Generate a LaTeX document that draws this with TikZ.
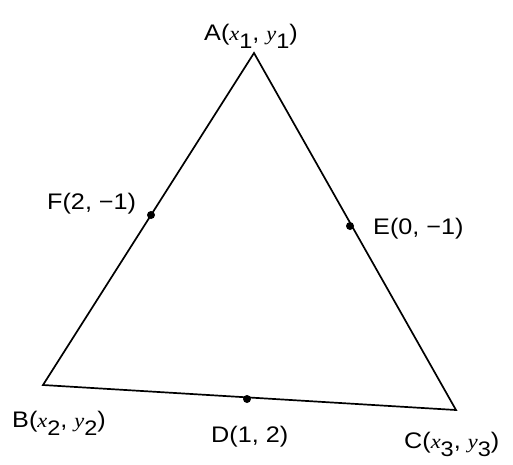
\documentclass[tikz,border=0pt]{standalone}
\usepackage{fontspec}
\usepackage{graphicx}
\setmainfont{Liberation Sans}
\newfontfamily\varfont{Liberation Serif}
\newcommand{\vv}[1]{{\varfont\itshape\fontsize{20}{20}\selectfont #1}}
\newcommand{\sbs}[1]{\raisebox{-0.75ex}{\fontsize{21}{21}\selectfont #1}}
\newcommand{\lbl}[1]{\scalebox{1.12}[1]{#1}}
\tikzset{
  side/.style={line width=1.7pt, line join=miter},
  pt/.style={circle, fill=black, inner sep=0pt, minimum size=8pt},
  lab/.style={anchor=base west, inner sep=0pt, font=\fontsize{22.5}{22.5}\selectfont}
}
\begin{document}
\begin{tikzpicture}[x=1pt,y=-1pt]
\useasboundingbox (0,0) rectangle (513,464);
\coordinate (A) at (254,53);
\coordinate (B) at (43,385);
\coordinate (C) at (456,410);
\draw[side] (A) -- (B) -- (C) -- cycle;
\node[pt] (D) at (247,399) {};
\node[pt] (F) at (151,215) {};
\node[pt] (E) at (350,226) {};
\node[lab] (lA) at (204,40) {\lbl{A(\vv{x}\sbs{1}, \vv{y}\sbs{1})}};
\node[lab] (lB) at (12,427) {\lbl{B(\vv{x}\sbs{2}, \vv{y}\sbs{2})}};
\node[lab] (lD) at (211,442) {\lbl{D(1, 2)}};
\node[lab] (lC) at (404,448) {\lbl{C(\vv{x}\sbs{3}, \vv{y}\sbs{3})}};
\node[lab] (lF) at (47,209) {\lbl{F(2, \textminus1)}};
\node[lab] (lE) at (373,234) {\lbl{E(0, \textminus1)}};
\end{tikzpicture}
\end{document}
